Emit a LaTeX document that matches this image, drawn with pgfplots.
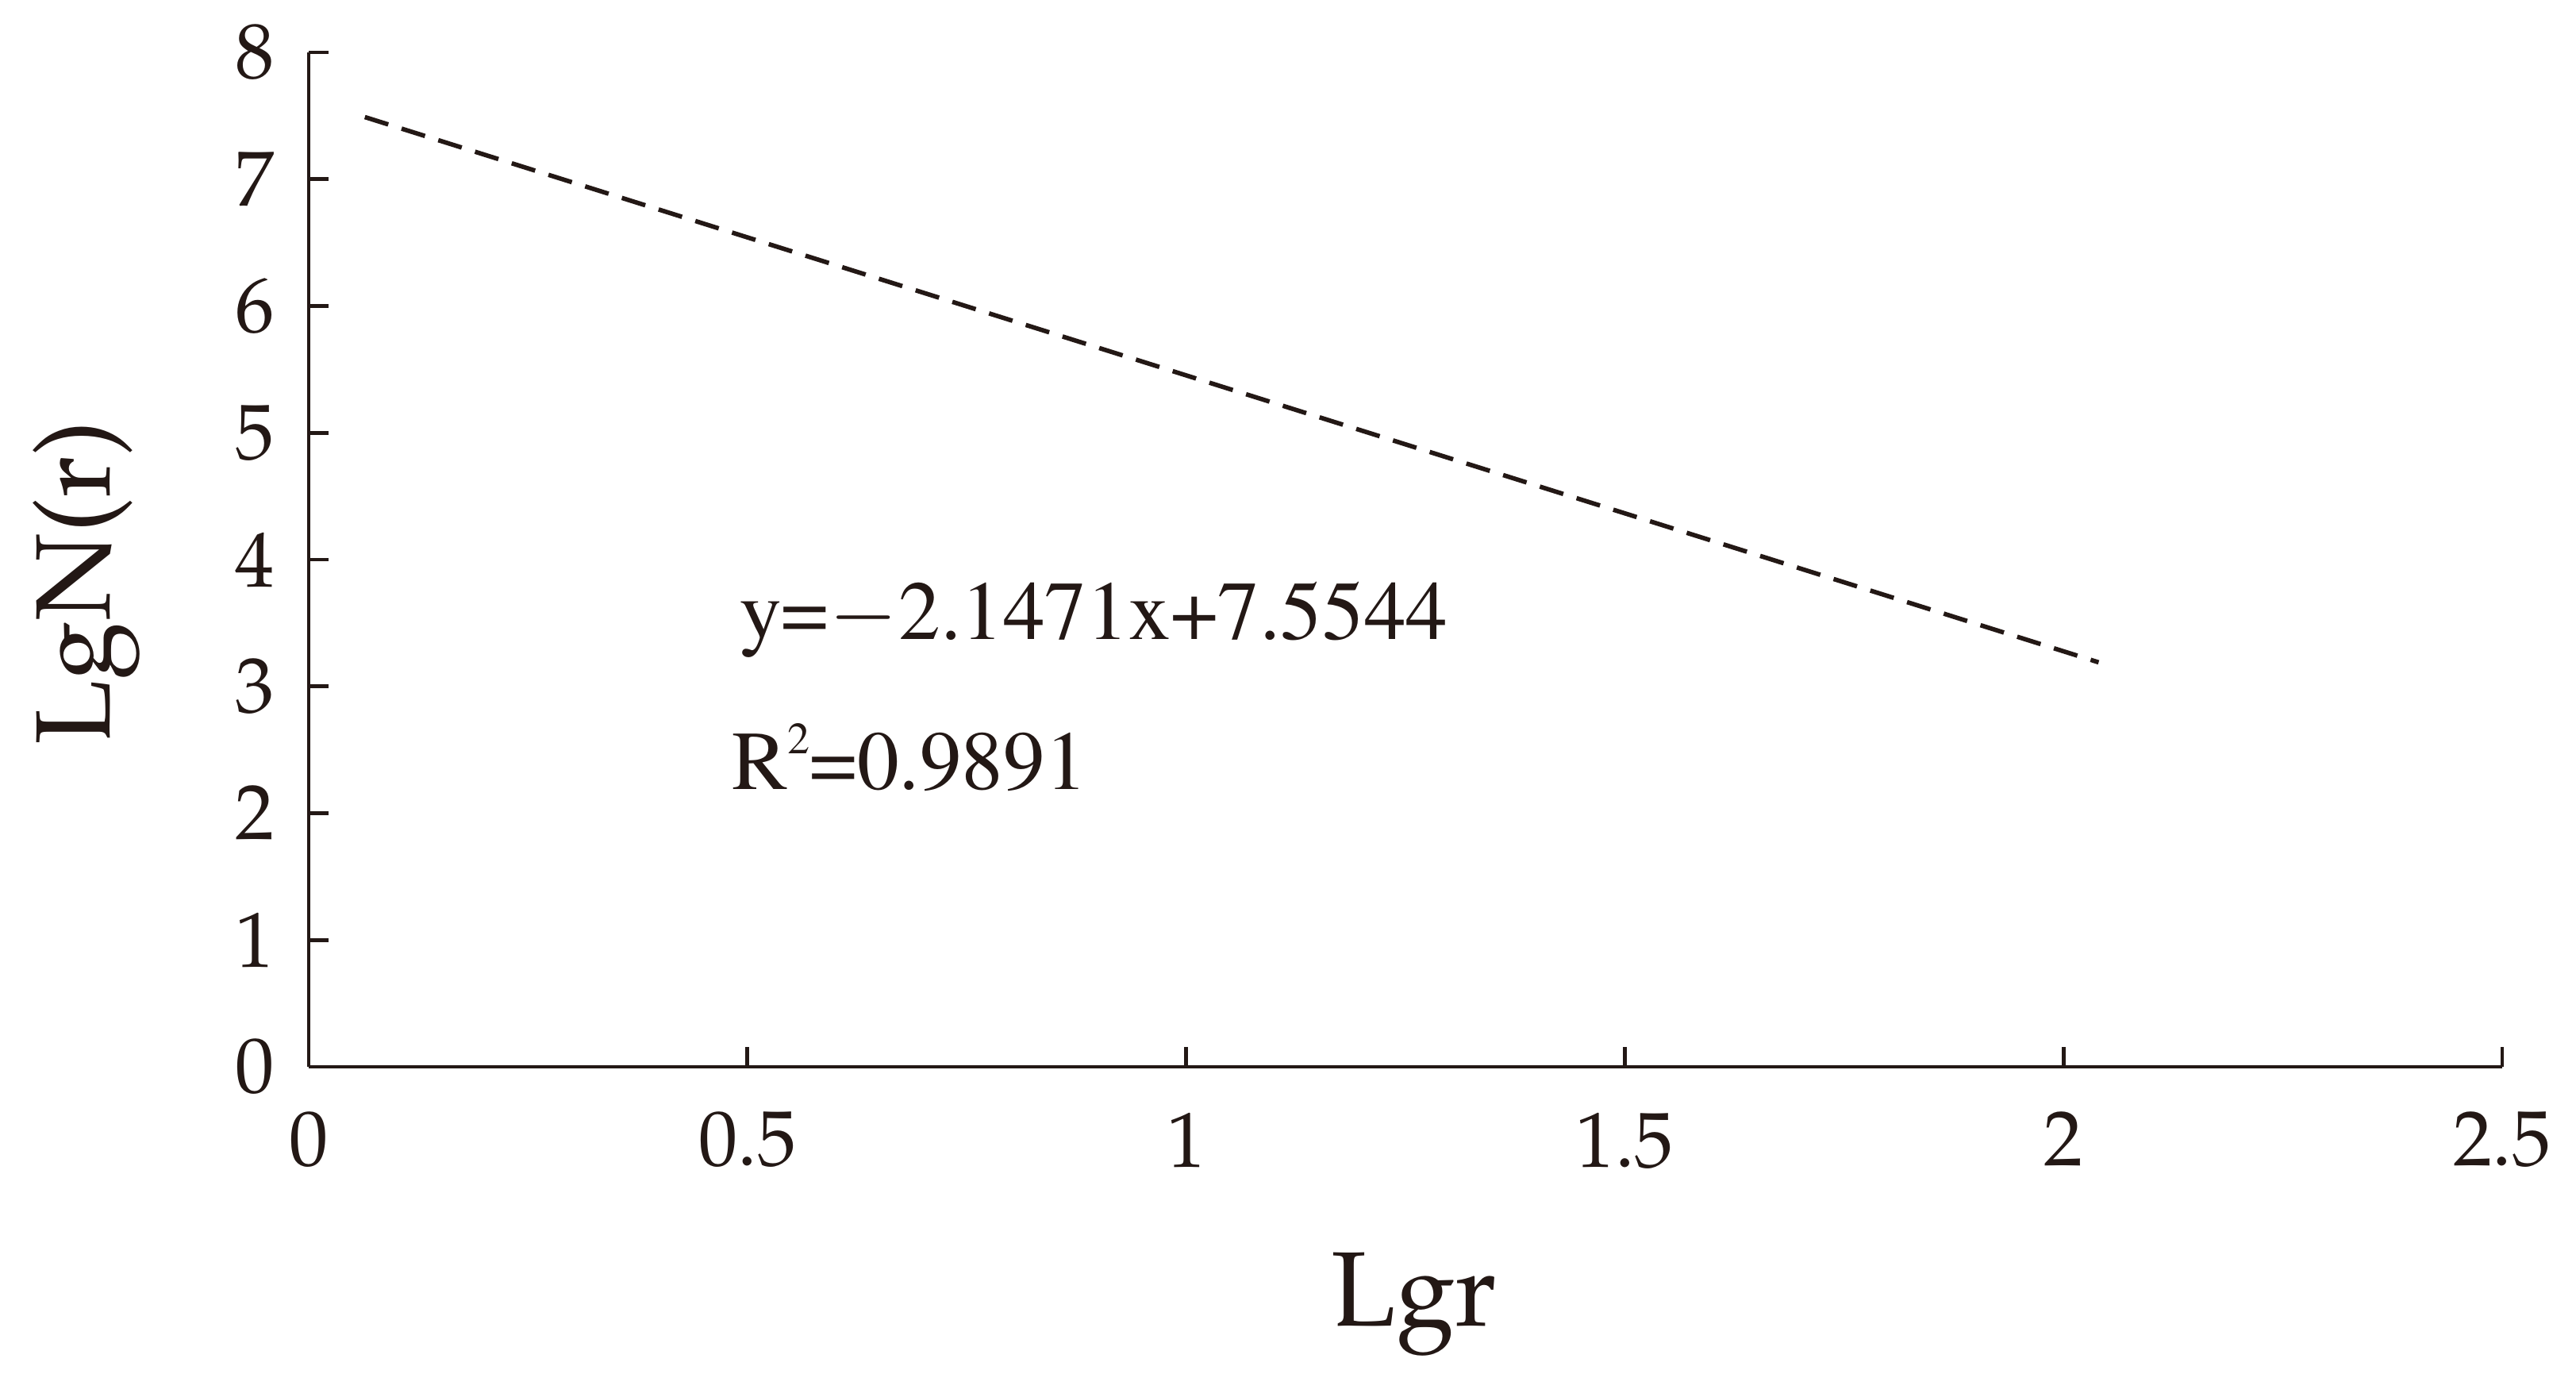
\documentclass[border=0pt]{standalone}
\usepackage[T1]{fontenc}
\usepackage{mathpazo}
\usepackage{pgfplots}
\pgfplotsset{compat=1.18}
\definecolor{ink}{HTML}{231815}

\begin{document}
\begin{tikzpicture}
\begin{axis}[
  at={(0,0)}, anchor=south west,
  scale only axis,
  width=13.82cm, height=6.39cm,
  xmin=0, xmax=2.5,
  ymin=0, ymax=8,
  xtick={0,0.5,1,1.5,2,2.5},
  ytick={0,1,2,3,4,5,6,7,8},
  axis lines=left,
  axis line style={-, ink, line width=0.7pt},
  tick align=inside,
  major tick length=3.6pt,
  tick style={ink, line width=0.7pt},
  tick label style={font=\fontsize{14}{16}\selectfont, text=ink},
  yticklabel style={anchor=east, inner sep=0pt, xshift=-6pt},
  xticklabel style={anchor=north, inner sep=0pt, yshift=-8pt},
  xlabel={Lgr},
  ylabel={LgN(r)},
  label style={font=\fontsize{19}{22}\selectfont, text=ink},
  xlabel style={at={(axis description cs:0.504,-0.2551)}, anchor=base},
  ylabel style={at={(axis description cs:-0.0908,0.477)}, anchor=base},
]
% trend line as drawn
\addplot[ink, line width=0.8pt, dash pattern=on 4.4pt off 2.5pt]
  coordinates {(0.064,7.49) (2.04,3.19)};

\node[anchor=base west, inner sep=0pt, text=ink,
  font=\fontsize{15}{18}\fontfamily{ptm}\selectfont]
  at (axis cs:0.49,3.37) {y=$-$2.1471x+7.5544};
\node[anchor=base west, inner sep=0pt, text=ink,
  font=\fontsize{15}{18}\fontfamily{ptm}\selectfont]
  at (axis cs:0.481,2.19) {R\raisebox{0.42em}{\fontsize{8}{9}\selectfont 2}=0.9891};
\end{axis}
\pgfresetboundingbox
\path[use as bounding box] (-1.945cm,-1.93cm) rectangle (14.285cm,6.72cm);
\end{tikzpicture}
\end{document}
